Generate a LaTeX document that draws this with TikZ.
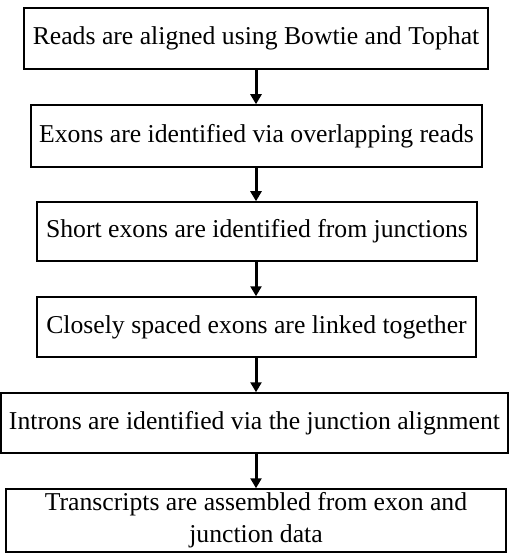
\documentclass[tikz,border=0pt]{standalone}
\usepackage{fontspec}
\setmainfont{Liberation Serif}
\usetikzlibrary{arrows.meta}
\begin{document}
\begin{tikzpicture}[x=1bp,y=1bp,
  stepbox/.style={draw,line width=1.5bp,inner sep=0pt,align=center,
    font=\fontsize{25.8}{32}\selectfont},
  flow/.style={line width=3bp,-{Triangle[length=10bp,width=11bp]}}]
\useasboundingbox (0,0) rectangle (509,-553);

\node[stepbox,minimum width=464bp,minimum height=61bp] (reads) at (256,-38.5) {Reads are aligned using Bowtie and Tophat};
\node[stepbox,minimum width=451bp,minimum height=62bp] (exons) at (256.5,-136) {Exons are identified via overlapping reads};
\node[stepbox,minimum width=440bp,minimum height=59bp] (short) at (257,-231.5) {Short exons are identified from junctions};
\node[stepbox,minimum width=439bp,minimum height=60bp] (close) at (256.5,-327) {Closely spaced exons are linked together};
\node[stepbox,minimum width=507bp,minimum height=60bp] (introns) at (254.5,-423) {Introns are identified via the junction alignment};
\node[stepbox,minimum width=500bp,minimum height=63bp] (trans) at (256,-520.5) {Transcripts are assembled from exon and\\junction data};

\draw[flow] (reads.south) -- (reads.south |- exons.north);
\draw[flow] (reads.south |- exons.south) -- (reads.south |- short.north);
\draw[flow] (reads.south |- short.south) -- (reads.south |- close.north);
\draw[flow] (reads.south |- close.south) -- (reads.south |- introns.north);
\draw[flow] (reads.south |- introns.south) -- (reads.south |- trans.north);
\end{tikzpicture}
\end{document}
